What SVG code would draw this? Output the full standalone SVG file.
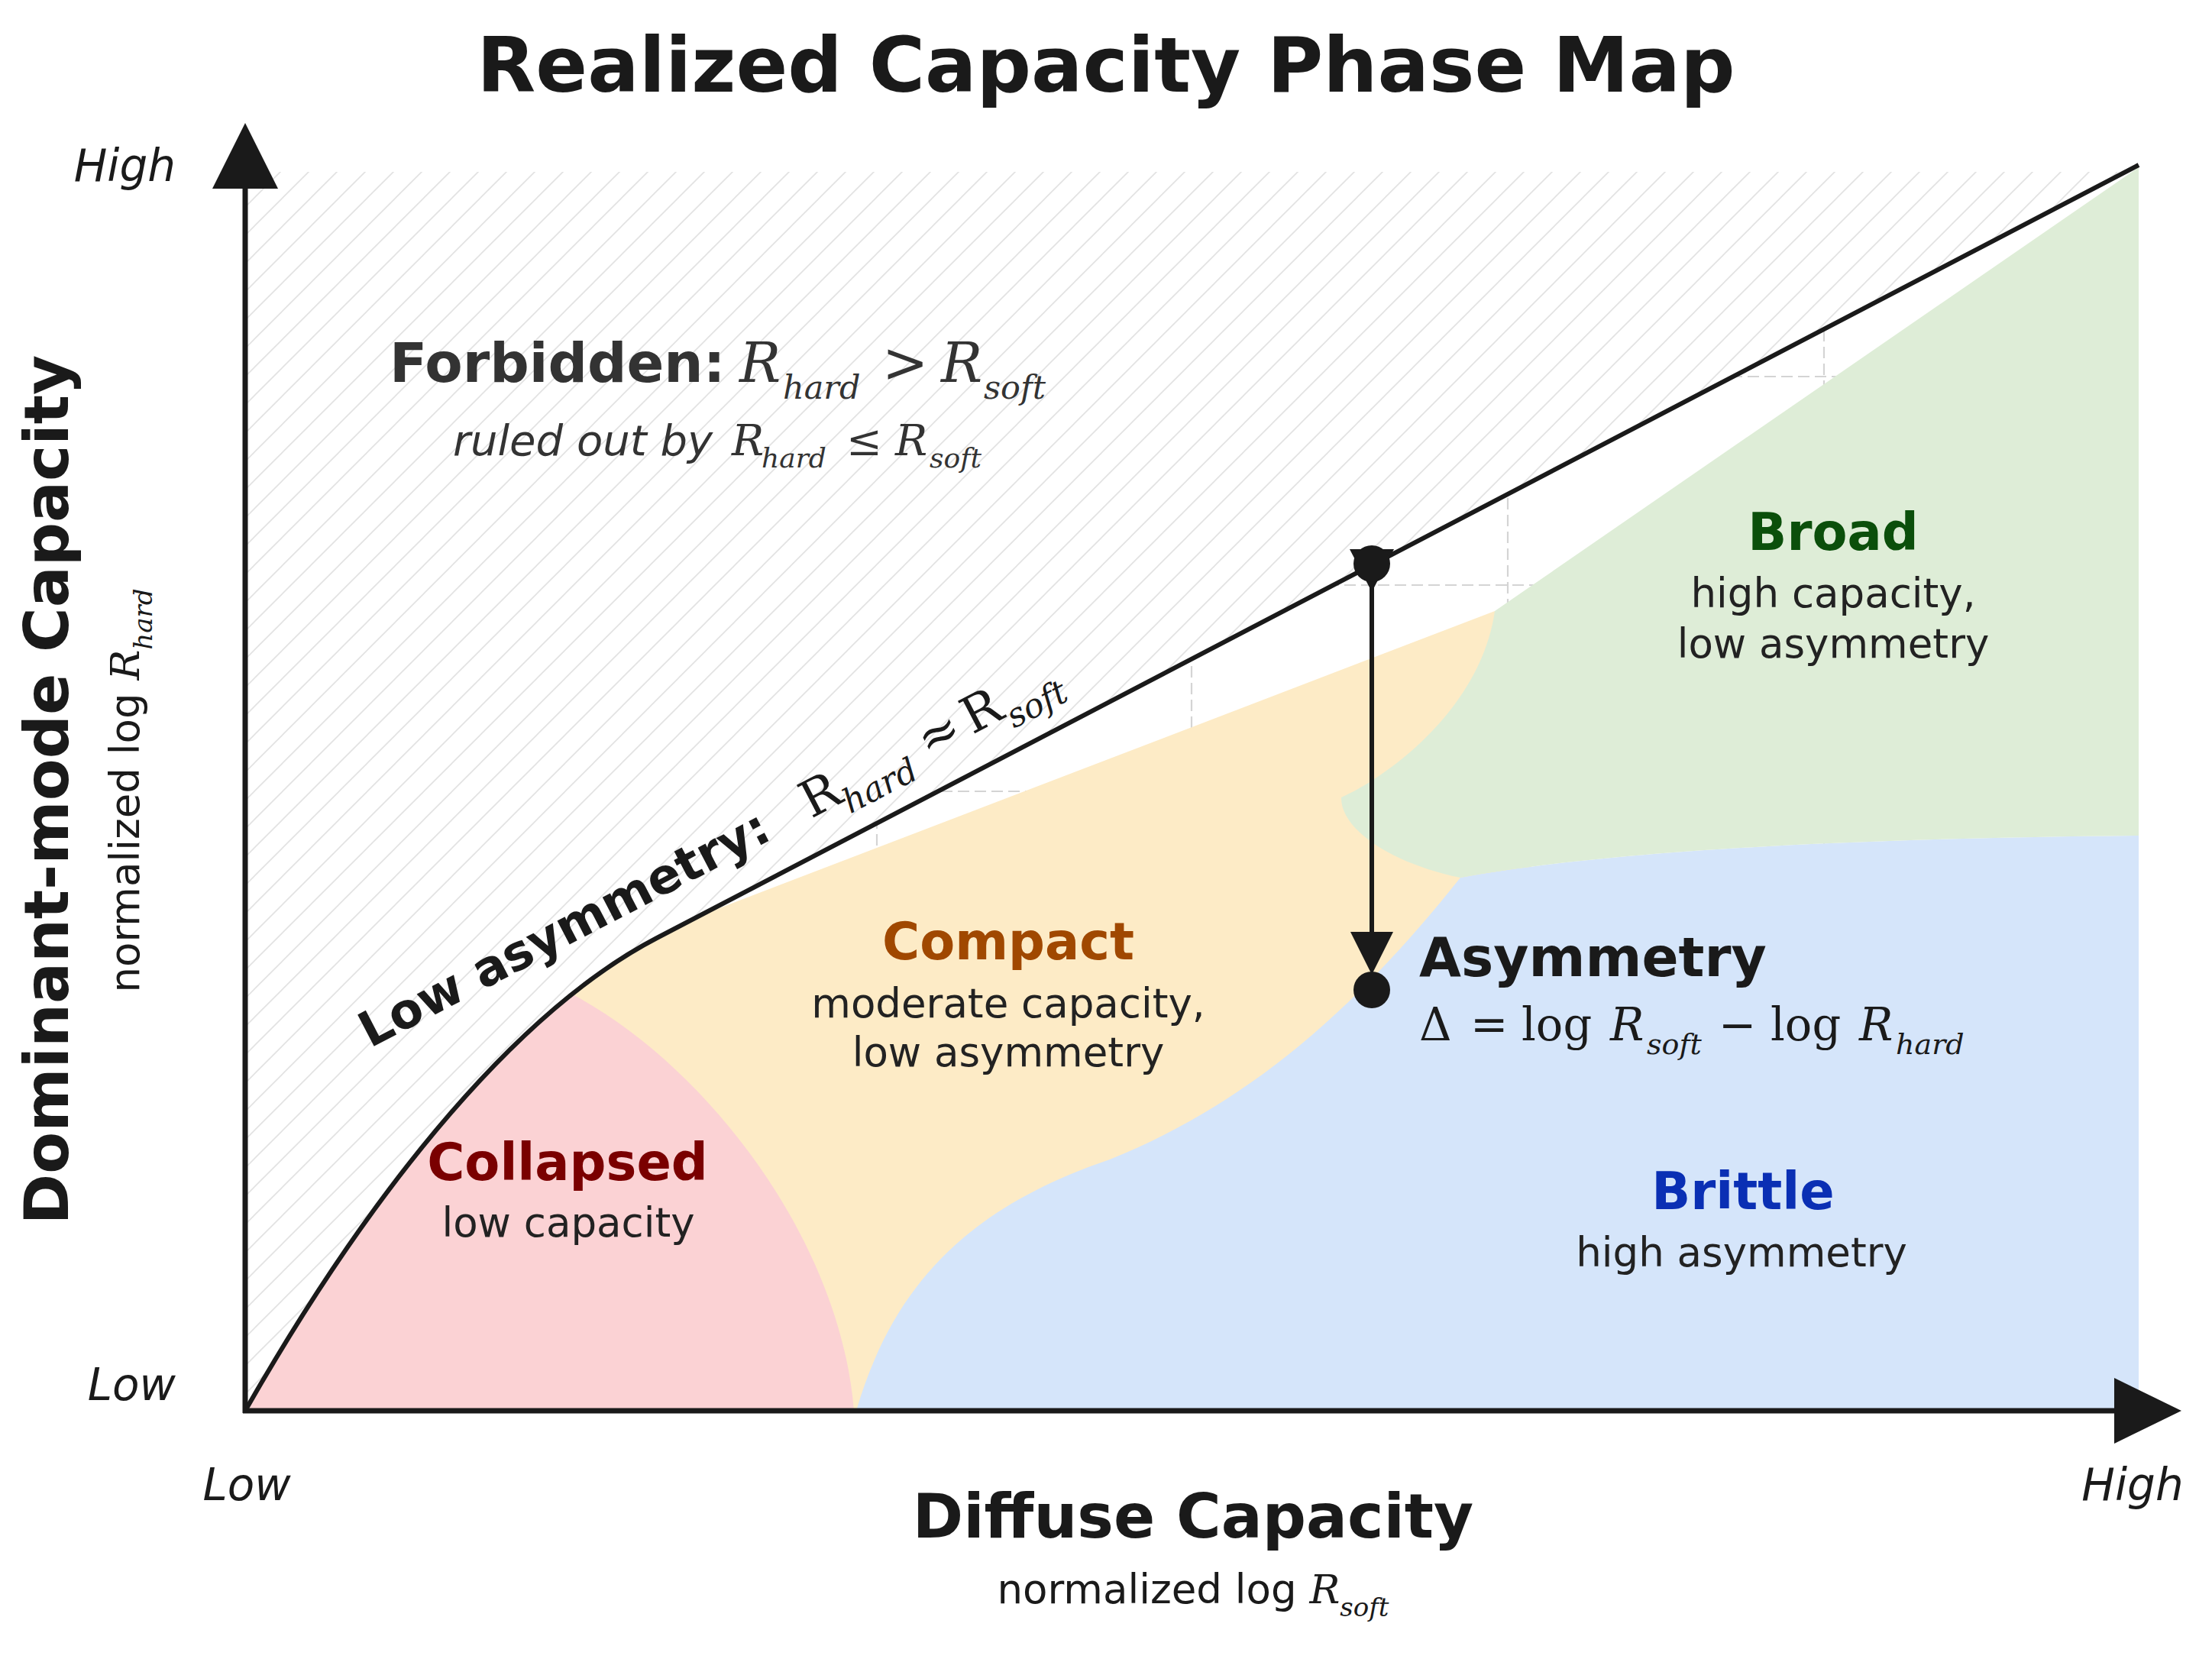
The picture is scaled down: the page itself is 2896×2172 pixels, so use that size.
<svg xmlns="http://www.w3.org/2000/svg" width="2896" height="2172" viewBox="0 0 2896 2172">
<defs>
<style>
.s{font-family:"DejaVu Sans","Liberation Sans",sans-serif;fill:#1a1a1a}
.b{font-weight:bold}
.i{font-style:italic}
.m{font-family:"DejaVu Serif","Liberation Serif",serif}
.mi{font-family:"DejaVu Serif","Liberation Serif",serif;font-style:italic}
.desc{font-family:"DejaVu Sans","Liberation Sans",sans-serif;fill:#222;font-size:53px}
.grid{stroke:#d4d4d4;stroke-width:2.2;stroke-dasharray:15 7;fill:none}
.ax{stroke:#1a1a1a;stroke-width:7;fill:none}
</style>
<pattern id="hatch" patternUnits="userSpaceOnUse" width="37" height="37">
<rect width="37" height="37" fill="#ffffff"/>
<path d="M-5,5 L5,-5 M0,37 L37,0 M32,42 L42,32" stroke="#e2e2e2" stroke-width="1.6"/>
</pattern>
</defs>
<rect width="2896" height="2172" fill="#ffffff"/>

<g id="grid">
<line class="grid" x1="1148" y1="300" x2="1148" y2="1840"/>
<line class="grid" x1="1560" y1="300" x2="1560" y2="1840"/>
<line class="grid" x1="1974" y1="300" x2="1974" y2="1840"/>
<line class="grid" x1="2388" y1="300" x2="2388" y2="1840"/>
<line class="grid" x1="330" y1="1036" x2="2790" y2="1036"/>
<line class="grid" x1="330" y1="766" x2="2790" y2="766"/>
<line class="grid" x1="330" y1="493" x2="2790" y2="493"/>
</g>

<g id="regions">
<path id="region-compact" d="M600,1320 L1957,800 L2005,800 L2005,1847 L600,1847 Z" fill="#fdebc6"/>
<path id="region-collapsed" d="M321,1847 L321,1200 L746,1200 L746,1300 C920,1390 1100,1620 1118,1847 Z" fill="#fbd2d4"/>
<path id="region-brittle" d="M1121,1847 C1170,1680 1270,1580 1453,1518 C1620,1450 1760,1340 1912,1149 C2100,1115 2400,1098 2800,1094 L2800,1847 Z" fill="#d5e5fa"/>
<path id="region-broad" d="M1957,800 L2800,219 L2800,1094 C2400,1098 2100,1115 1912,1149 C1820,1130 1755,1085 1756,1044 C1830,1010 1940,920 1957,800 Z" fill="#deedd7"/>
</g>

<g id="forbidden-region">
<path d="M321,225 L2783,225 L860,1228 C710,1306 521,1497 321,1847 Z" fill="url(#hatch)"/>
</g>

<g id="boundary">
<path d="M321,1847 C521,1497 710,1306 860,1228 L2800,216" fill="none" stroke="#1a1a1a" stroke-width="6"/>
</g>

<g id="axes">
<line class="ax" x1="321" y1="1850" x2="321" y2="245"/>
<line class="ax" x1="318" y1="1847" x2="2770" y2="1847"/>
<polygon points="321,161 364,247 278,247" fill="#1a1a1a"/>
<polygon points="2856,1847 2768,1804 2768,1890" fill="#1a1a1a"/>
<text class="s i" x="230" y="237" font-size="58" text-anchor="end">High</text>
<text class="s i" x="230" y="1833" font-size="58" text-anchor="end">Low</text>
<text class="s i" x="323" y="1964" font-size="58" text-anchor="middle">Low</text>
<text class="s i" x="2792" y="1964" font-size="58" text-anchor="middle">High</text>
<text class="s b" x="1562" y="2013" font-size="80" text-anchor="middle">Diffuse Capacity</text>
<text class="s" x="1562" y="2099" font-size="53" text-anchor="middle">normalized log <tspan class="mi">R</tspan><tspan class="mi" font-size="34" dy="17">soft</tspan></text>
<text class="s b" transform="translate(89,1034) rotate(-90)" font-size="80" text-anchor="middle">Dominant-mode Capacity</text>
<text class="s" transform="translate(182,1035) rotate(-90)" font-size="53" text-anchor="middle">normalized log <tspan class="mi">R</tspan><tspan class="mi" font-size="34" dy="17">hard</tspan></text>
</g>

<text id="title" class="s b" x="1448" y="120" font-size="100" text-anchor="middle">Realized Capacity Phase Map</text>

<g id="forbidden-label" fill="#333333">
<text y="500" font-size="72" fill="#333333"><tspan class="s b" style="fill:#333333" x="510">Forbidden:</tspan><tspan class="mi" x="968">R</tspan><tspan class="mi" x="1025" dy="22" font-size="43">hard</tspan><tspan class="m" x="1155" dy="-22">&gt;</tspan><tspan class="mi" x="1232">R</tspan><tspan class="mi" x="1288" dy="22" font-size="43">soft</tspan></text>
<text y="596" font-size="56" fill="#333333"><tspan class="s i" style="fill:#333333" x="593">ruled out by</tspan><tspan class="mi" x="958">R</tspan><tspan class="mi" x="997" dy="16" font-size="36">hard</tspan><tspan class="m" x="1108" dy="-16">≤</tspan><tspan class="mi" x="1172">R</tspan><tspan class="mi" x="1217" dy="16" font-size="36">soft</tspan></text>
</g>

<g id="low-asymmetry-label" transform="translate(1062,1072) rotate(-27.5)">
<text class="s b" x="-651" y="0" font-size="64">Low asymmetry:</text>
<text y="0" font-size="66" fill="#1a1a1a"><tspan class="m" x="0">R</tspan><tspan class="mi" x="48" dy="18" font-size="44">hard</tspan><tspan class="m" x="172" dy="-18">≈</tspan><tspan class="m" x="238">R</tspan><tspan class="mi" x="290" dy="18" font-size="44">soft</tspan></text>
</g>

<g id="node-collapsed">
<text class="s b" x="743" y="1545" font-size="67" text-anchor="middle" style="fill:#7a0000">Collapsed</text>
<text class="desc" x="744" y="1619" text-anchor="middle">low capacity</text>
</g>
<g id="node-compact">
<text class="s b" x="1320" y="1256" font-size="67" text-anchor="middle" style="fill:#a04800">Compact</text>
<text class="desc" x="1320" y="1332" text-anchor="middle">moderate capacity,</text>
<text class="desc" x="1320" y="1396" text-anchor="middle">low asymmetry</text>
</g>
<g id="node-broad">
<text class="s b" x="2400" y="720" font-size="67" text-anchor="middle" style="fill:#0b4f0b">Broad</text>
<text class="desc" x="2400" y="795" text-anchor="middle">high capacity,</text>
<text class="desc" x="2400" y="861" text-anchor="middle">low asymmetry</text>
</g>
<g id="node-brittle">
<text class="s b" x="2282" y="1583" font-size="67" text-anchor="middle" style="fill:#0a2fb4">Brittle</text>
<text class="desc" x="2280" y="1658" text-anchor="middle">high asymmetry</text>
</g>

<g id="connectors">
<line x1="1796" y1="760" x2="1796" y2="1224" stroke="#1a1a1a" stroke-width="6"/>
<polygon points="1767,719 1825,719 1796,775" fill="#1a1a1a"/>
<polygon points="1768,1220 1824,1220 1796,1276" fill="#1a1a1a"/>
<circle cx="1796" cy="738" r="24" fill="#1a1a1a"/>
<circle cx="1796" cy="1296" r="24" fill="#1a1a1a"/>
</g>

<g id="node-asymmetry">
<text class="s b" x="1858" y="1278" font-size="71">Asymmetry</text>
<text y="1362" font-size="59" fill="#1a1a1a"><tspan class="m" x="1858">Δ</tspan><tspan class="m" x="1925">=</tspan><tspan class="m" x="1992">log</tspan><tspan class="mi" x="2108">R</tspan><tspan class="mi" x="2156" dy="18" font-size="38">soft</tspan><tspan class="m" x="2250" dy="-18">−</tspan><tspan class="m" x="2318">log</tspan><tspan class="mi" x="2434">R</tspan><tspan class="mi" x="2482" dy="18" font-size="38">hard</tspan></text>
</g>
</svg>
